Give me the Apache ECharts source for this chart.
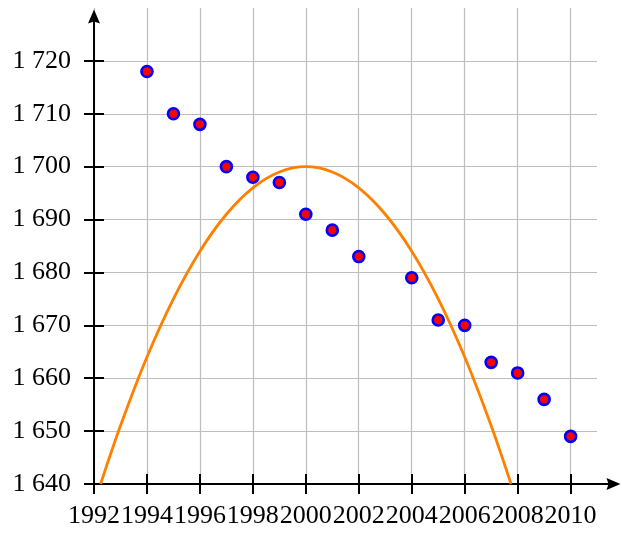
<!DOCTYPE html>
<html>
<head>
<meta charset="utf-8">
<script src="https://cdn.jsdelivr.net/npm/echarts@6/dist/echarts.min.js"></script>
<style>html,body{margin:0;padding:0;background:#fff}#c{width:622px;height:533px}</style>
</head>
<body>
<div id="c"></div>
<script>
// Data
var years = [1994, 1995, 1996, 1997, 1998, 1999, 2000, 2001, 2002, 2004, 2005, 2006, 2007, 2008, 2009, 2010];
var values = [1718, 1710, 1708, 1700, 1698, 1697, 1691, 1688, 1683, 1679, 1671, 1670, 1663, 1661, 1656, 1649];
var curveX = [1992.25, 1993, 1994, 1995, 1996, 1997, 1998, 1999, 2000, 2001, 2002, 2003, 2004, 2005, 2006, 2007, 2007.75];
var curveY = [1640, 1651, 1664, 1675, 1684, 1691, 1696, 1699, 1700, 1699, 1696, 1691, 1684, 1675, 1664, 1651, 1640];
var xTickLabels = [1992, 1994, 1996, 1998, 2000, 2002, 2004, 2006, 2008, 2010];
var yTickLabels = [1640, 1650, 1660, 1670, 1680, 1690, 1700, 1710, 1720];

var FONT = 'Liberation Serif';
var ARROW = 'path://M0,0L6,14L0,12L-6,14Z';
var pts = years.map(function (y, i) { return [y, values[i]]; });
var curve = curveX.map(function (x, i) { return [x, curveY[i]]; });
function fmtY(v) { var s = String(Math.round(v)); return s.charAt(0) + ' ' + s.slice(1); }

var chart = echarts.init(document.getElementById('c'), null, {renderer: 'canvas'});
chart.setOption({
  animation: false,
  backgroundColor: '#fff',
  grid: [
    {left: 94, top: 8, right: 25, bottom: 49, containLabel: false},
    {left: 94, top: 16.5, right: 8.5, bottom: 49, containLabel: false}
  ],
  xAxis: [
    {type: 'value', gridIndex: 0, min: 1992, max: 2011, interval: 1,
     axisLine: {show: false},
     axisTick: {show: true, inside: true, length: 10, customValues: xTickLabels, lineStyle: {color: '#000', width: 2}},
     axisLabel: {show: false},
     splitLine: {show: true, lineStyle: {color: '#bdbdbd', width: 1.2}}},
    {type: 'value', gridIndex: 1, min: 1992, max: 2011.62,
     axisLine: {show: true, onZero: false, lineStyle: {color: '#000', width: 2}, symbol: ['none', ARROW], symbolSize: [12, 14]},
     axisTick: {show: true, inside: false, length: 10, customValues: xTickLabels, lineStyle: {color: '#000', width: 2}},
     axisLabel: {show: true, customValues: xTickLabels, margin: 19, color: '#000', fontFamily: FONT, fontSize: 26,
                 formatter: function (v) { return String(v); }},
     splitLine: {show: false}}
  ],
  yAxis: [
    {type: 'value', gridIndex: 0, min: 1640, max: 1730, interval: 5,
     axisLine: {show: false},
     axisTick: {show: true, inside: true, length: 10, customValues: yTickLabels, lineStyle: {color: '#000', width: 2}},
     axisLabel: {show: false},
     splitLine: {show: true, lineStyle: {color: '#bdbdbd', width: 1.2}}},
    {type: 'value', gridIndex: 1, min: 1640, max: 1728.39,
     axisLine: {show: true, onZero: false, lineStyle: {color: '#000', width: 2}, symbol: ['none', ARROW], symbolSize: [12, 14]},
     axisTick: {show: true, inside: false, length: 10, customValues: yTickLabels, lineStyle: {color: '#000', width: 2}},
     axisLabel: {show: true, customValues: yTickLabels, margin: 23, color: '#000', fontFamily: FONT, fontSize: 26,
                 formatter: fmtY},
     splitLine: {show: false}}
  ],
  series: [
    {type: 'line', xAxisIndex: 1, yAxisIndex: 1, data: curve, smooth: 0.35, showSymbol: false, symbol: 'none',
     lineStyle: {color: '#ff8000', width: 2.8}, z: 3},
    {type: 'scatter', xAxisIndex: 1, yAxisIndex: 1, data: pts, symbol: 'circle', symbolSize: 11,
     itemStyle: {color: '#ff0000', borderColor: '#0000ff', borderWidth: 2.6, opacity: 1}, z: 4}
  ]
});
</script>
</body>
</html>
